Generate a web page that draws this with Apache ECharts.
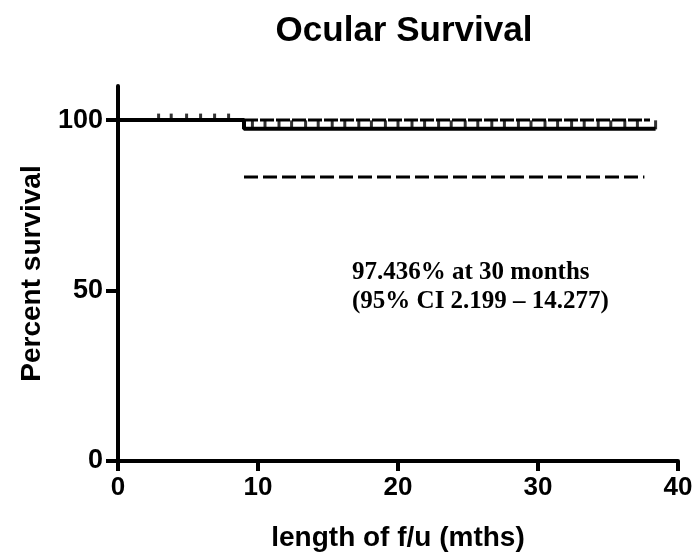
<!DOCTYPE html>
<html>
<head>
<meta charset="utf-8">
<script src="https://cdn.jsdelivr.net/npm/echarts@6/dist/echarts.min.js"></script>
<style>
  html, body { margin: 0; padding: 0; background: #fff; }
  #main { width: 694px; height: 553px; }
</style>
</head>
<body>
<div id="main"></div>
<script>
// Kaplan-Meier curve (months, percent)
const survMonths = [0, 9, 9, 38.4];
const survPct = [100, 100, 97.436, 97.436];

// 95% CI bands
const upperMonths = [9, 38];
const upperPct = [100, 100];
const lowerMonths = [9, 37.6];
const lowerPct = [83.3, 83.3];

// censored observations
const censorEarly = [2.9, 3.8, 4.9, 5.9, 6.9, 7.9];
const censorLate = [9.6, 10.5, 11.5, 12.4, 13.4, 14.3, 15.3, 16.2, 17.2, 18.1,
  19.1, 20.0, 21.0, 21.9, 22.9, 23.8, 24.8, 25.7, 26.7, 27.6, 28.6, 29.5,
  30.5, 31.4, 32.4, 33.3, 34.3, 35.2, 36.2, 37.1, 38.4];

const xTicks = [0, 10, 20, 30, 40];
const yTicks = [0, 50, 100];

const zip = (xs, ys) => xs.map((x, i) => [x, ys[i]]);

let myChart = echarts.init(document.getElementById("main"));

let options = {
	animation: false,
	backgroundColor: "#fff",
	title: {
		text: "Ocular Survival",
		left: 399,
		top: 9,
		textAlign: "center",
		textStyle: { fontFamily: "Liberation Sans", fontWeight: "bold", fontSize: 35, color: "#000" },
	},
	grid: { left: 118, right: 16, top: 86, bottom: 92, containLabel: false, outerBoundsMode: "none" },
	xAxis: {
		type: "value",
		min: 0,
		max: 40,
		interval: 10,
		name: "length of f/u (mths)",
		nameLocation: "middle",
		nameGap: 63,
		nameTextStyle: { fontFamily: "Liberation Sans", fontWeight: "bold", fontSize: 28, color: "#000" },
		axisLine: { onZero: false, lineStyle: { color: "#000", width: 4 } },
		axisTick: { show: true, inside: false, length: 10, customValues: xTicks, lineStyle: { color: "#000", width: 4 } },
		axisLabel: { margin: 14, customValues: xTicks, fontFamily: "Liberation Sans", fontWeight: "bold", fontSize: 26, color: "#000" },
		splitLine: { show: false },
	},
	yAxis: {
		type: "value",
		min: 0,
		max: 110,
		name: "Percent survival",
		nameLocation: "middle",
		nameGap: 72,
		nameTextStyle: { fontFamily: "Liberation Sans", fontWeight: "bold", fontSize: 28, color: "#000" },
		axisLine: { lineStyle: { color: "#000", width: 4 } },
		axisTick: { show: true, length: 12, customValues: yTicks, lineStyle: { color: "#000", width: 4 } },
		axisLabel: { margin: 15, customValues: yTicks, fontFamily: "Liberation Sans", fontWeight: "bold", fontSize: 27, color: "#000" },
		splitLine: { show: false },
	},
	graphic: [
		{
			type: "text",
			left: 352,
			top: 258,
			style: {
				text: "97.436% at 30 months\n(95% CI 2.199 \u2013 14.277)",
				font: "bold 25px 'Liberation Serif'",
				lineHeight: 29,
				fill: "#000",
			},
		},
	],
	series: [
		{
			name: "Survival",
			type: "line",
			data: zip(survMonths, survPct),
			symbol: "none",
			lineStyle: { color: "#000", width: 4 },
			z: 3,
		},
		{
			name: "Upper CI",
			type: "line",
			data: zip(upperMonths, upperPct),
			symbol: "none",
			lineStyle: { color: "#000", width: 3, type: [14, 2] },
			z: 2,
		},
		{
			name: "Lower CI",
			type: "line",
			data: zip(lowerMonths, lowerPct),
			symbol: "none",
			lineStyle: { color: "#000", width: 3, type: [14, 5] },
			z: 2,
		},
		{
			name: "Censored early",
			type: "scatter",
			data: censorEarly.map((m) => [m, 100]),
			symbol: "rect",
			symbolSize: [3, 7],
			symbolOffset: [0, -3],
			itemStyle: { color: "#000" },
			z: 4,
		},
		{
			name: "Censored late",
			type: "scatter",
			data: censorLate.map((m) => [m, 97.436]),
			symbol: "rect",
			symbolSize: [3, 9],
			symbolOffset: [0, -4],
			itemStyle: { color: "#000" },
			z: 4,
		},
	],
};

myChart.setOption(options);
</script>
</body>
</html>
